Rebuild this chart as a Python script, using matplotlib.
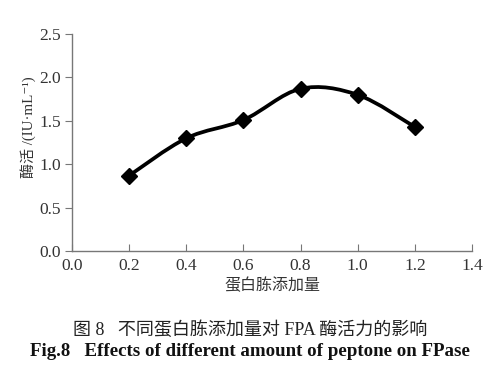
import matplotlib
matplotlib.use("Agg")
import matplotlib.pyplot as plt
from matplotlib.path import Path
from matplotlib.patches import PathPatch
import numpy as np

x_vals = [0.2, 0.4, 0.6, 0.8, 1.0, 1.2]
y_vals = [0.87, 1.30, 1.51, 1.87, 1.80, 1.43]
x_ticks = [0.0, 0.2, 0.4, 0.6, 0.8, 1.0, 1.2, 1.4]
y_ticks = [0.0, 0.5, 1.0, 1.5, 2.0, 2.5]

serif = ['Liberation Serif', 'DejaVu Serif']
cjk = ['Noto Sans CJK SC', 'DejaVu Sans']
mixed = ['Liberation Serif', 'Noto Sans CJK SC', 'DejaVu Sans']

fig = plt.figure(figsize=(5.0, 3.87), dpi=100)
ax = fig.add_axes([0.144, 0.351, 0.80, 0.561])

# smoothed curve (Excel-like) built as Bezier path from data
pts = np.column_stack([x_vals, y_vals])
verts = [tuple(pts[0])]
codes = [Path.MOVETO]
t = 1.0 / 6.0
n = len(pts)
for i in range(n - 1):
    p0 = pts[i - 1] if i > 0 else pts[i]
    p1 = pts[i]
    p2 = pts[i + 1]
    p3 = pts[i + 2] if i + 2 < n else pts[i + 1]
    c1 = p1 + (p2 - p0) * t
    c2 = p2 - (p3 - p1) * t
    verts += [tuple(c1), tuple(c2), tuple(p2)]
    codes += [Path.CURVE4] * 3
ax.add_patch(PathPatch(Path(verts, codes), fill=False, lw=2.7, color='black',
                       capstyle='round', joinstyle='round'))
ax.plot(x_vals, y_vals, linestyle='none', marker='D', ms=8, color='black')

ax.set_xlim(0, 1.4)
ax.set_ylim(0, 2.5)
ax.set_xticks(x_ticks)
ax.set_yticks(y_ticks)
ax.set_xticklabels([f"{v:.1f}" for v in x_ticks], fontfamily=serif, fontsize=12.5, color='#333333')
ax.set_yticklabels([f"{v:.1f}" for v in y_ticks], fontfamily=serif, fontsize=12.5, color='#333333')
ax.tick_params(axis='x', direction='in', length=5, color='#777777', pad=5)
ax.tick_params(axis='y', direction='out', length=5, color='#777777', pad=3)
for s in ['top', 'right']:
    ax.spines[s].set_visible(False)
for s in ['left', 'bottom']:
    ax.spines[s].set_color('#777777')
    ax.spines[s].set_linewidth(1.0)

ax.set_xlabel('蛋白胨添加量', fontfamily=cjk, fontsize=11.5, color='#333333', labelpad=2)
ax.set_ylabel('酶活 /(IU·mL⁻¹)', fontfamily=mixed, fontsize=10.8, color='#333333')
ax.yaxis.set_label_coords(-0.09, 0.57)

fig.text(0.5, 1 - 330 / 387, '图 8   不同蛋白胨添加量对 FPA 酶活力的影响', ha='center', va='center',
         fontfamily=['Liberation Serif', 'Noto Sans CJK SC'], fontsize=13, color='#222222')
fig.text(0.5, 1 - 352 / 387, 'Fig.8   Effects of different amount of peptone on FPase', ha='center', va='center',
         fontfamily=serif, fontsize=13.6, fontweight='bold', color='#111111')

fig.savefig('out.png', dpi=100)
